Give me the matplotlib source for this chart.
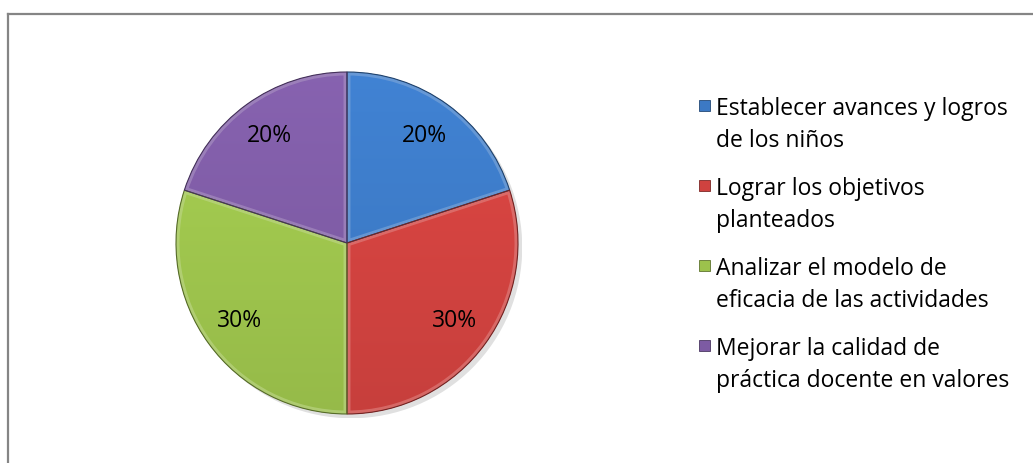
import numpy as np
import matplotlib
matplotlib.use("Agg")
import matplotlib.pyplot as plt
from matplotlib.colors import to_rgb
from matplotlib.patches import Rectangle, Circle, Wedge
from matplotlib.lines import Line2D

plt.rcParams['font.family'] = ['Open Sans', 'DejaVu Sans']

# datos
etiquetas = [
    "Establecer avances y logros\nde los niños",
    "Lograr los objetivos\nplanteados",
    "Analizar el modelo de\neficacia de las actividades",
    "Mejorar la calidad de\npráctica docente en valores",
]
valores = [20, 30, 30, 20]
colores = ["#3c79c4", "#cf423f", "#9cc24c", "#7d5ba3"]

W, H = 1033, 463
fig = plt.figure(figsize=(W / 100, H / 100), dpi=100)

# marco del grafico
borde = "#858585"
fig.add_artist(Line2D([7.5 / W, 1], [1 - 13.5 / H, 1 - 13.5 / H], color=borde, lw=1.6,
                      transform=fig.transFigure))
fig.add_artist(Line2D([7.5 / W, 7.5 / W], [0, 1 - 13.5 / H], color=borde, lw=1.6,
                      transform=fig.transFigure))

# ejes del pastel (centro ~ (347, 243) px, radio ~171 px)
cx, cy, r = 347, 243, 171
ax = fig.add_axes([(cx - r - 4) / W, (H - cy - r - 4) / H, (2 * r + 8) / W, (2 * r + 8) / H])
ax.axis("off")

lim = 1 + 4 / r

# sombra
ax.add_patch(Circle((0.025, -0.025), 1.0, color="#000000", alpha=0.12, lw=0, zorder=0))

wedges, textos, pcts = ax.pie(
    valores, colors=colores, startangle=90, counterclock=False, radius=1.0,
    autopct="%1.0f%%", pctdistance=0.775,
    wedgeprops=dict(edgecolor="none", linewidth=0),
    textprops=dict(fontsize=16.5, color="black"),
)
for p in pcts:
    p.set_zorder(10)

# degradado y bisel en cada porcion
yy = np.linspace(1, -1, 200)[:, None] * np.ones((1, 200))
for w, c in zip(wedges, colores):
    base = np.array(to_rgb(c))
    fac = 1.08 - 0.12 * (1 - yy) / 2
    img = np.clip(base[None, None, :] * fac[:, :, None], 0, 1)
    im = ax.imshow(img, extent=[-1, 1, -1, 1], zorder=2, interpolation="bilinear")
    im.set_clip_path(w)
    luz = np.clip(base + (1 - base) * 0.35, 0, 1)
    borde_luz = Wedge(w.center, w.r, w.theta1, w.theta2, facecolor="none",
                      edgecolor=luz, lw=5, alpha=0.6, zorder=3)
    ax.add_patch(borde_luz)
    borde_luz.set_clip_path(w)
    oscuro = base * 0.55
    ax.add_patch(Wedge(w.center, w.r, w.theta1, w.theta2, facecolor="none",
                       edgecolor=oscuro, lw=0.8, zorder=4))

ax.set_xlim(-lim, lim)
ax.set_ylim(-lim, lim)
ax.set_aspect("equal")

# leyenda manual
x_marca, x_texto = 699, 716
y0, paso, interlinea = 115, 80, 32
for i, (et, c) in enumerate(zip(etiquetas, colores)):
    yb = y0 + i * paso
    fig.add_artist(Rectangle((x_marca / W, 1 - (yb - 4) / H), 11 / W, 11 / H,
                             facecolor=c, edgecolor=np.array(to_rgb(c)) * 0.6, lw=0.6,
                             transform=fig.transFigure))
    for j, linea in enumerate(et.split("\n")):
        fig.text(x_texto / W, 1 - (yb + j * interlinea) / H, linea, fontsize=16.5,
                 va="baseline", ha="left", color="black")

fig.savefig("out.png", dpi=100)
